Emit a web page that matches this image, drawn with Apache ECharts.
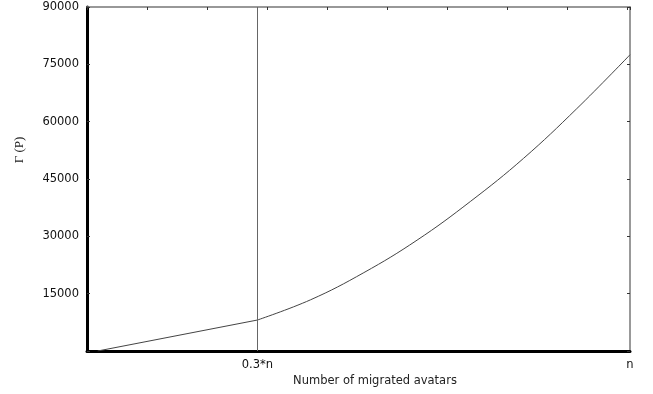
<!DOCTYPE html>
<html>
<head>
<meta charset="utf-8">
<script src="https://cdn.jsdelivr.net/npm/echarts@6/dist/echarts.min.js"></script>
<style>
html,body{margin:0;padding:0;background:#fff;}
#chart{width:653px;height:394px;}
</style>
</head>
<body>
<div id="chart"></div>
<script>
// fraction of n (x) and Γ(P) values (y)
// first part: 0 .. 0.3*n (nearly straight)
var xFracLow = [0, 0.3];
var gammaLow = [0, 8100];
// second part: 0.3*n .. n (convex curve)
var xFracHigh = [0.3, 0.4, 0.5, 0.6, 0.7, 0.8, 0.9, 1.0];
var gammaHigh = [8100, 13400, 20500, 29000, 39100, 50400, 63400, 77500];
var xTickValues = [0.3, 1.0];
var xTickLabels = {0.3: '0.3*n', 1: 'n'};
var splitX = 0.3;

var chart = echarts.init(document.getElementById('chart'), null, {renderer: 'canvas'});
var labelFont = {fontFamily: 'DejaVu Sans', fontSize: 11.5, color: '#111'};
function pairs(xs, ys) { return xs.map(function (x, i) { return [x, ys[i]]; }); }

chart.setOption({
  animation: false,
  backgroundColor: '#fff',
  grid: {left: 87, right: 23, top: 7, bottom: 43, show: false},
  xAxis: [{
    type: 'value', min: -0.02, max: 1,
    axisLine: {show: true, onZero: false, lineStyle: {color: '#000', width: 3}},
    axisTick: {show: false, customValues: xTickValues},
    axisLabel: Object.assign({customValues: xTickValues, margin: 8,
      formatter: function (v) { return xTickLabels[Math.round(v * 10) / 10] || ''; }}, labelFont),
    splitLine: {show: false}
  }, {
    type: 'value', position: 'top', min: 0, max: 9.05, interval: 1,
    axisLine: {show: true, onZero: false, lineStyle: {color: '#777', width: 1.5}},
    axisTick: {show: true, inside: true, length: 3, lineStyle: {color: '#333'}},
    axisLabel: {show: false}, splitLine: {show: false}
  }],
  yAxis: [{
    type: 'value', min: 0, max: 90000, interval: 15000,
    axisLine: {show: true, onZero: false, lineStyle: {color: '#000', width: 3}},
    axisTick: {show: true, inside: true, length: 3, lineStyle: {color: '#333'}},
    axisLabel: Object.assign({margin: 8,
      formatter: function (v) { return v === 0 ? '' : String(v); }}, labelFont),
    splitLine: {show: false}
  }, {
    type: 'value', position: 'right', min: 0, max: 90000, interval: 15000,
    axisLine: {show: true, onZero: false, lineStyle: {color: '#777', width: 1.5}},
    axisTick: {show: true, inside: true, length: 3, lineStyle: {color: '#333'}},
    axisLabel: {show: false}, splitLine: {show: false}
  }],
  series: [{
    type: 'line',
    xAxisIndex: 0, yAxisIndex: 0,
    data: pairs(xFracLow, gammaLow),
    showSymbol: false,
    lineStyle: {color: '#444', width: 1},
    markLine: {
      silent: true,
      symbol: ['none', 'none'],
      label: {show: false},
      lineStyle: {color: '#666', width: 1, type: 'solid'},
      data: [{xAxis: splitX}]
    }
  }, {
    type: 'line',
    xAxisIndex: 0, yAxisIndex: 0,
    data: pairs(xFracHigh, gammaHigh),
    smooth: 0.4,
    showSymbol: false,
    lineStyle: {color: '#444', width: 1}
  }],
  graphic: [{
    type: 'text', x: 20, y: 150, rotation: Math.PI / 2,
    style: {text: 'Γ (P)', fontFamily: 'Liberation Serif', fontSize: 13, fill: '#222',
      align: 'center', verticalAlign: 'middle'}
  }, {
    type: 'text', x: 375, y: 381,
    style: {text: 'Number of migrated avatars', fontFamily: 'DejaVu Sans', fontSize: 11.5, fill: '#222',
      align: 'center', verticalAlign: 'middle'}
  }]
});
</script>
</body>
</html>
